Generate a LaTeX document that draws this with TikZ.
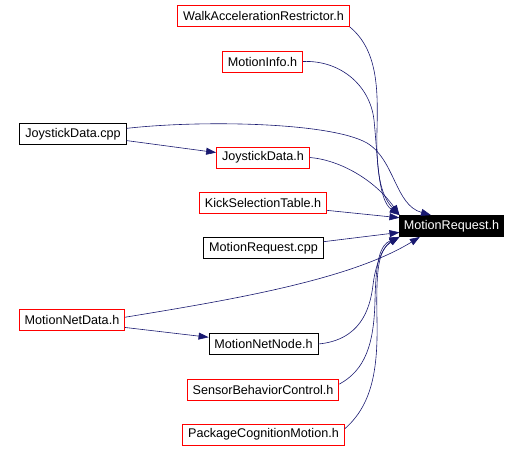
\documentclass[tikz,border=0pt]{standalone}
\usepackage{fontspec}
\setmainfont{Liberation Sans}
\usetikzlibrary{arrows.meta}
\definecolor{edgeblue}{HTML}{191970}
\tikzset{
  file/.style={draw=red,line width=0.8pt,inner xsep=5.5pt,inner ysep=0pt,minimum height=21pt,
    font=\fontsize{12.6}{14}\selectfont},
  blackfile/.style={file,draw=black},
  mainfile/.style={file,draw=black,fill=black,text=white,inner xsep=4pt},
  dep/.style={draw=edgeblue,line width=0.6pt,-{Triangle[length=10pt,width=7pt]}}
}
\begin{document}
\begin{tikzpicture}[x=1pt,y=-1pt]
  \useasboundingbox (0,0) rectangle (519,452);
  \node[file] (walk) at (263.5,16) {WalkAccelerationRestrictor.h};
  \node[file] (info) at (262.5,61.5) {MotionInfo.h};
  \node[blackfile] (jcpp) at (73,134) {JoystickData.cpp};
  \node[file] (jh) at (263,157.5) {JoystickData.h};
  \node[file] (kick) at (263,202.5) {KickSelectionTable.h};
  \node[mainfile] (mr) at (451.5,226) {MotionRequest.h};
  \node[blackfile] (mrcpp) at (263.5,248) {MotionRequest.cpp};
  \node[file] (mnd) at (72,320) {MotionNetData.h};
  \node[blackfile] (mnn) at (263.5,344) {MotionNetNode.h};
  \node[file] (sbc) at (263,389.5) {SensorBehaviorControl.h};
  \node[file] (pcm) at (263.5,434.5) {PackageCognitionMotion.h};
  % edges into MotionRequest.h
  \draw[dep] (walk.south east) .. controls (378,50) and (378,90) .. (377,130)
             .. controls (376,170) and (380,195) .. (mr.north west);
  \draw[dep] (info.east) .. controls (340,60) and (370,85) .. (374,120)
             .. controls (378,160) and (378,200) .. (mr.north west);
  \draw[dep] (jcpp.6) .. controls (200,120) and (330,122) .. (367,143)
             .. controls (395,160) and (395,205) .. (mr.152);
  \draw[dep] (jcpp.-7) -- (jh.174);
  \draw[dep] (jh.east) .. controls (340,160) and (375,180) .. (mr.north west);
  \draw[dep] (kick.-7) -- (mr.171);
  \draw[dep] (mrcpp.6) -- (mr.187);
  \draw[dep] (mnd.3) .. controls (230,300) and (350,280) .. (mr.199);
  \draw[dep] (mnd.-8) -- (mnn.173);
  \draw[dep] (mnn.east) .. controls (360,340) and (370,310) .. (373,285)
             .. controls (376,260) and (385,245) .. (mr.south west);
  \draw[dep] (sbc.4) .. controls (365,370) and (374,345) .. (375,300)
             .. controls (376,260) and (380,245) .. (mr.south west);
  \draw[dep] (pcm.4) .. controls (372,405) and (378,370) .. (377,320)
             .. controls (376,270) and (378,250) .. (mr.south west);
\end{tikzpicture}
\end{document}
